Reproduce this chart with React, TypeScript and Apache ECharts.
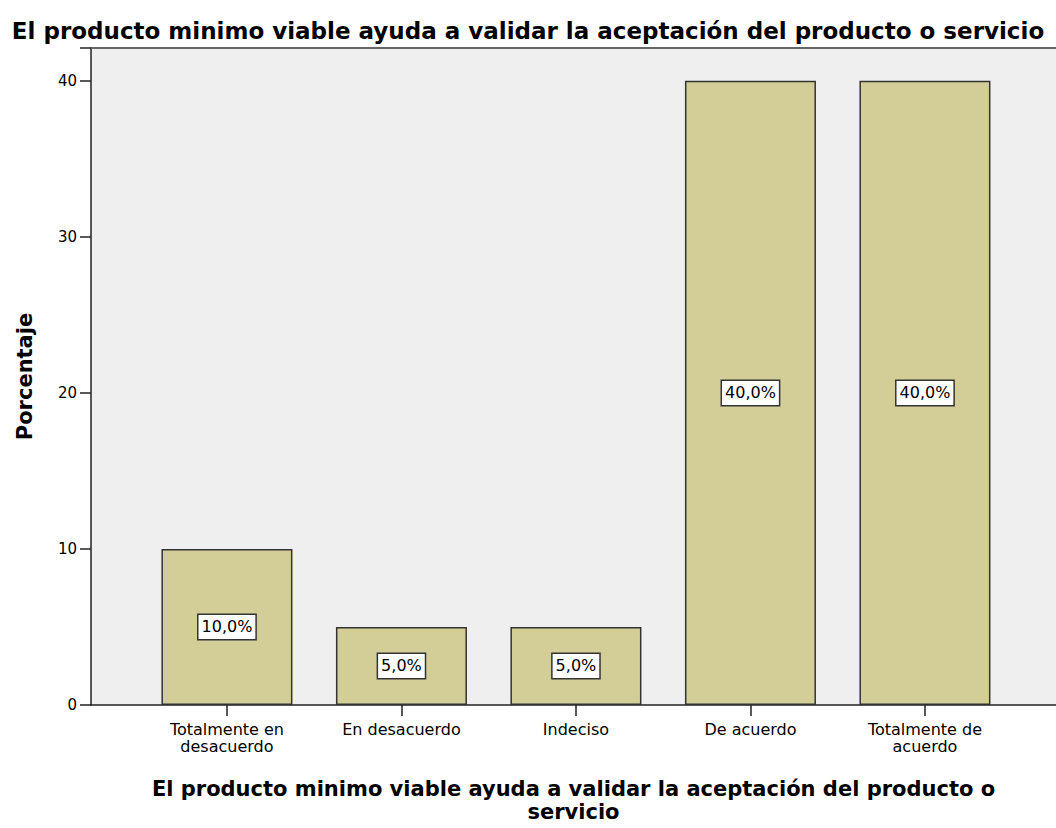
import React, { useEffect, useRef } from "react";
import * as echarts from "echarts";

const TITLE = "El producto minimo viable ayuda a validar la aceptación del producto o servicio";
const X_NAME = "El producto minimo viable ayuda a validar la aceptación del producto o\nservicio";
const Y_NAME = "Porcentaje";
const categories = ["Totalmente en\ndesacuerdo", "En desacuerdo", "Indeciso", "De acuerdo", "Totalmente de\nacuerdo"];
const percentages = [10, 5, 5, 40, 40];
const pctLabels = ["10,0%", "5,0%", "5,0%", "40,0%", "40,0%"];
const yTicks = [0, 10, 20, 30, 40];

export default function App() {
  const ref = useRef<HTMLDivElement>(null);
  useEffect(() => {
    if (!ref.current) return;
    const chart = echarts.init(ref.current, null, { renderer: "svg" });
    const catIdx = categories.map((_, i) => i);
    chart.setOption({
      animation: false,
      backgroundColor: "#ffffff",
      title: {
        text: TITLE,
        left: "center",
        top: 14,
        textStyle: { fontFamily: "DejaVu Sans", fontWeight: "bold", fontSize: 23, color: "#000" },
      },
      grid: {
        left: 91,
        right: 0,
        top: 48,
        bottom: 121,
        show: true,
        backgroundColor: "#efefef",
        borderWidth: 0,
      },
      xAxis: {
        type: "value",
        min: -0.779,
        max: 4.751,
        name: X_NAME,
        nameLocation: "middle",
        nameGap: 72,
        nameTextStyle: { fontFamily: "DejaVu Sans", fontWeight: "bold", fontSize: 21, color: "#000", lineHeight: 23 },
        axisLine: { show: true, onZero: false, lineStyle: { color: "#222", width: 1.5 } },
        axisTick: { show: true, customValues: catIdx, length: 11, lineStyle: { color: "#222", width: 1.5 } },
        axisLabel: {
          customValues: catIdx,
          formatter: (v: number) => categories[Math.round(v)] ?? "",
          fontFamily: "DejaVu Sans",
          fontSize: 16,
          color: "#000",
          lineHeight: 17,
          margin: 16,
        },
        splitLine: { show: false },
      },
      yAxis: {
        type: "value",
        min: 0,
        max: 42.1,
        interval: 10,
        name: Y_NAME,
        nameLocation: "middle",
        nameGap: 56,
        nameTextStyle: { fontFamily: "DejaVu Sans", fontWeight: "bold", fontSize: 21, color: "#000" },
        axisLine: { show: true, onZero: false, lineStyle: { color: "#222", width: 1.5 } },
        axisTick: { show: true, length: 11, lineStyle: { color: "#222", width: 1.5 } },
        axisLabel: {
          customValues: yTicks,
          fontFamily: "DejaVu Sans",
          fontSize: 15,
          color: "#000",
          margin: 14,
        },
        splitLine: { show: false },
      },
      graphic: [
        {
          type: "line",
          shape: { x1: 91, y1: 48, x2: 1056, y2: 48 },
          style: { stroke: "#666", lineWidth: 2 },
          z: 10,
        },
      ],
      series: [
        {
          type: "bar",
          barWidth: 131,
          data: percentages.map((v, i) => [i, v]),
          itemStyle: { color: "#d3ce97", borderColor: "#333", borderWidth: 1.5 },
          label: {
            show: true,
            position: "inside",
            formatter: (p: any) => pctLabels[p.dataIndex],
            fontFamily: "DejaVu Sans",
            fontSize: 16,
            lineHeight: 18,
            color: "#000",
            backgroundColor: "#ffffff",
            borderColor: "#333",
            borderWidth: 1.5,
            padding: [3, 3, 3, 3],
          },
        },
      ],
    });
    return () => chart.dispose();
  }, []);
  return <div ref={ref} style={{ position: "fixed", left: 0, top: 0, width: 1056, height: 828 }} />;
}
